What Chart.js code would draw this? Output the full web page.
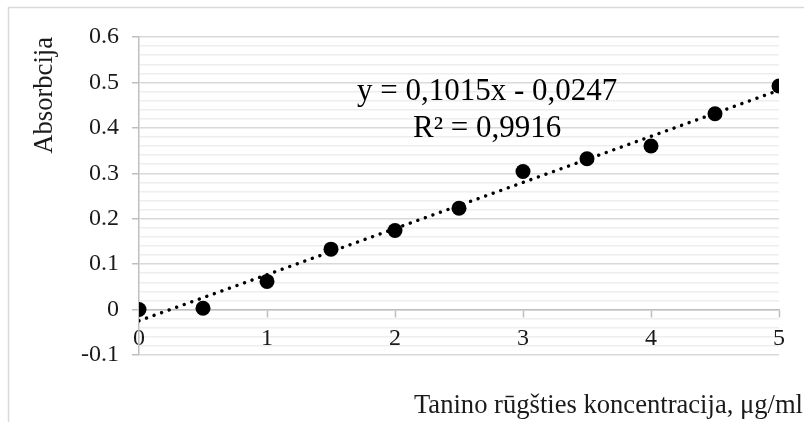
<!DOCTYPE html>
<html>
<head>
<meta charset="utf-8">
<script src="https://cdn.jsdelivr.net/npm/chart.js@4"></script>
<style>
  html, body { margin: 0; padding: 0; background: #fff; overflow: hidden; }
  #wrap { position: relative; width: 804px; height: 422px; }
</style>
</head>
<body>
<div id="wrap"><canvas id="calibChart"></canvas></div>
<script>
// Calibration data: tannic acid concentration (µg/ml) vs absorbance
const concentration = [0, 0.5, 1, 1.5, 2, 2.5, 3, 3.5, 4, 4.5, 5];
const absorbance = [0, 0.003, 0.062, 0.133, 0.174, 0.223, 0.304, 0.332, 0.360, 0.431, 0.492];

// Linear trendline as printed in the label
const slope = 0.1015;
const intercept = -0.0247;
const rSquared = 0.9916;
const trendRange = [0, 5];

const yMajorTicks = [-0.1, 0, 0.1, 0.2, 0.3, 0.4, 0.5, 0.6];
const xTicks = [0, 1, 2, 3, 4, 5];

const serif = '"Liberation Serif", "Times New Roman", serif';
const textColor = '#1a1a1a';

document.addEventListener('DOMContentLoaded', () => {
    const ctx = document.getElementById('calibChart').getContext('2d');

    const points = concentration.map((c, i) => ({ x: c, y: absorbance[i] }));
    const trend = trendRange.map(x => ({ x: x, y: slope * x + intercept }));

    const isMajor = v => {
        const r = Math.round(v * 100) / 100;
        return yMajorTicks.some(t => Math.abs(t - r) < 1e-6);
    };

    // outer frame, equation label and horizontal axis caption
    const decorations = {
        id: 'decorations',
        beforeDraw(chart) {
            const c = chart.ctx;
            c.save();
            c.strokeStyle = '#d9d9d9';
            c.lineWidth = 1.5;
            c.beginPath();
            c.moveTo(8.5, chart.height);
            c.lineTo(8.5, 7.5);
            c.lineTo(chart.width, 7.5);
            c.stroke();
            c.restore();
        },
        afterDraw(chart) {
            const c = chart.ctx;
            const xs = chart.scales.x, ys = chart.scales.y;
            c.save();
            c.fillStyle = '#000';
            c.font = '31px ' + serif;
            c.textAlign = 'center';
            c.textBaseline = 'alphabetic';
            const lx = xs.getPixelForValue(2.72);
            const ly = ys.getPixelForValue(0.461);
            c.fillText('y = ' + slope.toString().replace('.', ',') + 'x - ' +
                Math.abs(intercept).toString().replace('.', ','), lx, ly);
            c.fillText('R² = ' + rSquared.toString().replace('.', ','), lx, ly + 37);

            c.fillStyle = textColor;
            c.font = '26.6px ' + serif;
            c.textAlign = 'right';
            c.fillText('Tanino rūgšties koncentracija, μg/ml', chart.width - 1, 413);
            c.restore();
        }
    };

    new Chart(ctx, {
        type: 'scatter',
        data: {
            datasets: [{
                label: 'Absorbcija',
                data: points,
                backgroundColor: '#000',
                borderColor: '#000',
                pointRadius: 7.5,
                pointHoverRadius: 7.5,
                borderWidth: 0,
                order: 1
            }, {
                label: 'Tendencija',
                data: trend,
                showLine: true,
                borderColor: '#000',
                borderWidth: 3.4,
                borderDash: [0.01, 8],
                borderCapStyle: 'round',
                pointRadius: 0,
                fill: false,
                order: 0
            }]
        },
        options: {
            responsive: true,
            maintainAspectRatio: false,
            animation: false,
            layout: { padding: { left: 0, top: 37, right: 25, bottom: 67 } },
            plugins: {
                legend: { display: false },
                tooltip: { enabled: false }
            },
            scales: {
                x: {
                    type: 'linear',
                    position: { y: 0 },
                    min: 0,
                    max: 5,
                    afterBuildTicks: scale => {
                        scale.ticks = xTicks.map(v => ({ value: v }));
                    },
                    grid: {
                        drawOnChartArea: false,
                        drawTicks: true,
                        tickLength: 7,
                        tickColor: '#bfbfbf',
                        tickWidth: 1.5
                    },
                    border: { display: true, color: '#bfbfbf', width: 1.5 },
                    ticks: {
                        color: textColor,
                        font: { family: serif, size: 24 },
                        padding: 8,
                        maxRotation: 0
                    }
                },
                y: {
                    type: 'linear',
                    min: -0.1,
                    max: 0.6,
                    afterFit: scale => { scale.width = 139; },
                    grid: {
                        color: c => isMajor(c.tick.value) ? '#d9d9d9' : '#eeeeee',
                        lineWidth: 1.5,
                        tickColor: c => isMajor(c.tick.value) ? '#bfbfbf' : 'rgba(0,0,0,0)',
                        tickLength: 7
                    },
                    border: { display: true, color: '#bfbfbf', width: 1.5 },
                    ticks: {
                        stepSize: 0.02,
                        maxTicksLimit: 100,
                        autoSkip: false,
                        color: textColor,
                        font: { family: serif, size: 24 },
                        padding: 13,
                        callback: v => {
                            if (!isMajor(v)) return '';
                            const r = Math.round(v * 10) / 10;
                            return r === 0 ? '0' : r.toFixed(1);
                        }
                    },
                    title: {
                        display: true,
                        text: 'Absorbcija',
                        align: 'end',
                        color: textColor,
                        font: { family: serif, size: 26.6 },
                        padding: { top: 29, bottom: 0 }
                    }
                }
            }
        },
        plugins: [decorations]
    });
});
</script>
</body>
</html>
